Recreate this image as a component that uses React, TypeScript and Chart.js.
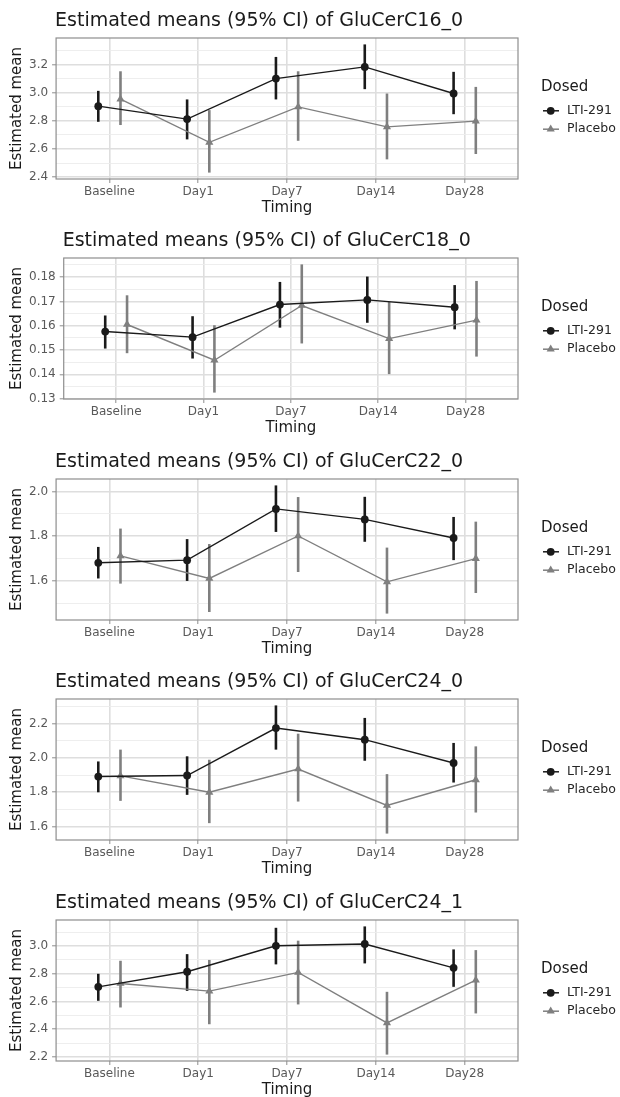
import React, { useEffect, useRef } from "react";
import { Chart, registerables } from "chart.js";

Chart.register(...registerables);

// ---------- data ----------
const categories = ["Baseline", "Day1", "Day7", "Day14", "Day28"];
const seriesNames = ["LTI-291", "Placebo"];

// GluCerC16_0
const c16LtiMean = [2.904, 2.812, 3.1, 3.183, 2.994];
const c16LtiLower = [2.793, 2.668, 2.952, 3.025, 2.847];
const c16LtiUpper = [3.013, 2.952, 3.254, 3.343, 3.148];
const c16PlaMean = [2.954, 2.647, 2.899, 2.757, 2.798];
const c16PlaLower = [2.77, 2.432, 2.658, 2.526, 2.564];
const c16PlaUpper = [3.152, 2.876, 3.152, 2.994, 3.041];
const c16TickLabels = ["2.4", "2.6", "2.8", "3.0", "3.2"];

// GluCerC18_0
const c18LtiMean = [0.1576, 0.1553, 0.1687, 0.1706, 0.1676];
const c18LtiLower = [0.1506, 0.1465, 0.1592, 0.1612, 0.1585];
const c18LtiUpper = [0.1642, 0.1639, 0.178, 0.1802, 0.1767];
const c18PlaMean = [0.1605, 0.1458, 0.1683, 0.1547, 0.1623];
const c18PlaLower = [0.1487, 0.1325, 0.1527, 0.1401, 0.1473];
const c18PlaUpper = [0.1725, 0.1602, 0.1852, 0.1698, 0.1784];
const c18TickLabels = ["0.13", "0.14", "0.15", "0.16", "0.17", "0.18"];

// GluCerC22_0
const c22LtiMean = [1.681, 1.693, 1.922, 1.875, 1.792];
const c22LtiLower = [1.611, 1.6, 1.819, 1.775, 1.693];
const c22LtiUpper = [1.752, 1.787, 2.027, 1.976, 1.886];
const c22PlaMean = [1.712, 1.611, 1.801, 1.596, 1.7];
const c22PlaLower = [1.588, 1.461, 1.64, 1.454, 1.546];
const c22PlaUpper = [1.834, 1.765, 1.975, 1.749, 1.865];
const c22TickLabels = ["1.6", "1.8", "2.0"];

// GluCerC24_0
const c240LtiMean = [1.892, 1.898, 2.175, 2.107, 1.971];
const c240LtiLower = [1.8, 1.785, 2.049, 1.984, 1.857];
const c240LtiUpper = [1.98, 2.01, 2.307, 2.234, 2.088];
const c240PlaMean = [1.896, 1.8, 1.936, 1.723, 1.873];
const c240PlaLower = [1.75, 1.62, 1.746, 1.559, 1.682];
const c240PlaUpper = [2.049, 1.99, 2.142, 1.906, 2.068];
const c240TickLabels = ["1.6", "1.8", "2.0", "2.2"];

// GluCerC24_1
const c241LtiMean = [2.706, 2.815, 3.002, 3.015, 2.843];
const c241LtiLower = [2.605, 2.677, 2.868, 2.875, 2.706];
const c241LtiUpper = [2.8, 2.942, 3.132, 3.142, 2.976];
const c241PlaMean = [2.73, 2.675, 2.81, 2.446, 2.754];
const c241PlaLower = [2.557, 2.436, 2.579, 2.217, 2.514];
const c241PlaUpper = [2.894, 2.9, 3.039, 2.67, 2.971];
const c241TickLabels = ["2.2", "2.4", "2.6", "2.8", "3.0"];

const panelTitles = [
  "Estimated means (95% CI) of GluCerC16_0",
  "Estimated means (95% CI) of GluCerC18_0",
  "Estimated means (95% CI) of GluCerC22_0",
  "Estimated means (95% CI) of GluCerC24_0",
  "Estimated means (95% CI) of GluCerC24_1",
];

// ---------- style ----------
const FONT = '"DejaVu Sans", Verdana, sans-serif';
const LTI_COLOR = "#1a1a1a";
const PLA_COLOR = "#7f7f7f";
const DODGE = 0.125;
const CANVAS_H = 221;
const PANEL_TOPS = [0, 220, 441, 661, 882];

const errorBarPlugin = {
  id: "errbars",
  beforeDatasetsDraw(chart: any) {
    const { ctx } = chart;
    const xs = chart.scales.x;
    const ys = chart.scales.y;
    const dss = chart.data.datasets;
    for (let d = dss.length - 1; d >= 0; d--) {
      const ds = dss[d];
      ctx.save();
      ctx.strokeStyle = ds.errColor;
      ctx.lineWidth = ds.errWidth;
      ctx.lineCap = "butt";
      ds.data.forEach((p: any, i: number) => {
        const px = xs.getPixelForValue(p.x);
        ctx.beginPath();
        ctx.moveTo(px, ys.getPixelForValue(ds.lower[i]));
        ctx.lineTo(px, ys.getPixelForValue(ds.upper[i]));
        ctx.stroke();
      });
      ctx.restore();
    }
  },
};

const decorPlugin = {
  id: "decor",
  afterDraw(chart: any) {
    const { ctx, chartArea: a } = chart;
    const opts = chart.options.plugins.decor;
    ctx.save();
    // panel border
    ctx.strokeStyle = "#8e8e8e";
    ctx.lineWidth = 1.2;
    ctx.strokeRect(a.left, a.top, a.right - a.left, a.bottom - a.top);
    // title
    ctx.fillStyle = "#1a1a1a";
    ctx.font = `19px ${FONT}`;
    ctx.textAlign = "left";
    ctx.textBaseline = "alphabetic";
    ctx.fillText(opts.title, a.left - 1, a.top - 12);
    // x axis title
    ctx.font = `15px ${FONT}`;
    ctx.textAlign = "center";
    ctx.textBaseline = "middle";
    ctx.fillText("Timing", (a.left + a.right) / 2, a.bottom + 29);
    // y axis title
    ctx.save();
    ctx.translate(17.5, (a.top + a.bottom) / 2);
    ctx.rotate(-Math.PI / 2);
    ctx.fillText("Estimated mean", 0, 0);
    ctx.restore();
    // legend
    const cy = (a.top + a.bottom) / 2;
    const lx = a.right;
    ctx.textAlign = "left";
    ctx.font = `15px ${FONT}`;
    ctx.fillText("Dosed", lx + 23, cy - 21.6);
    chart.data.datasets.forEach((ds: any, i: number) => {
      const y = cy + 2.3 + i * 18.4;
      ctx.strokeStyle = ds.borderColor;
      ctx.lineWidth = 1.5;
      ctx.beginPath();
      ctx.moveTo(lx + 25, y);
      ctx.lineTo(lx + 41, y);
      ctx.stroke();
      ctx.fillStyle = ds.backgroundColor;
      const px = lx + 32.7;
      ctx.beginPath();
      if (ds.pointStyle === "triangle") {
        const r = ds.pointRadius;
        for (let k = 0; k < 3; k++) {
          const ang = (k * 2 * Math.PI) / 3;
          const xx = px + Math.sin(ang) * r;
          const yy = y - Math.cos(ang) * r;
          if (k === 0) ctx.moveTo(xx, yy);
          else ctx.lineTo(xx, yy);
        }
        ctx.closePath();
      } else {
        ctx.arc(px, y, ds.pointRadius, 0, Math.PI * 2);
      }
      ctx.fill();
      ctx.fillStyle = "#262626";
      ctx.font = `12.5px ${FONT}`;
      ctx.fillText(ds.label, lx + 49, y);
    });
    ctx.restore();
  },
};

type Series = { mean: number[]; lower: number[]; upper: number[] };

function Panel(props: { title: string; lti: Series; pla: Series; tickLabels: string[]; top: number }) {
  const { title, lti, pla, tickLabels, top } = props;
  const ref = useRef<HTMLCanvasElement>(null);

  useEffect(() => {
    const majors = tickLabels.map(Number);
    const all = [...lti.lower, ...lti.upper, ...pla.lower, ...pla.upper, ...lti.mean, ...pla.mean];
    const lo = Math.min(...all);
    const hi = Math.max(...all);
    const pad = (hi - lo) * 0.05;
    const yMin = lo - pad;
    const yMax = hi + pad;
    const half = (majors[1] - majors[0]) / 2;
    const tickVals: number[] = [];
    for (let k = -4; k <= majors.length * 2 + 4; k++) {
      const v = +(majors[0] + k * half).toFixed(6);
      if (v >= yMin - 1e-9 && v <= yMax + 1e-9) tickVals.push(v);
    }
    const majorIndex = (v: number) => majors.findIndex((m) => Math.abs(m - v) < half / 10);
    const isMajor = (v: number) => majorIndex(v) >= 0;

    const makeDs = (name: string, s: Series, shift: number, color: string, style: string, radius: number) => ({
      label: name,
      data: s.mean.map((m, i) => ({ x: i + shift, y: m })),
      lower: s.lower,
      upper: s.upper,
      errColor: color,
      errWidth: 2.6,
      borderColor: color,
      backgroundColor: color,
      borderWidth: 1.4,
      pointStyle: style,
      pointRadius: radius,
      pointBorderWidth: 0,
      pointHoverRadius: radius,
      tension: 0,
      fill: false,
    });

    const chart = new Chart(ref.current as HTMLCanvasElement, {
      type: "line",
      data: {
        datasets: [
          makeDs(seriesNames[0], lti, -DODGE, LTI_COLOR, "circle", 3.9),
          makeDs(seriesNames[1], pla, DODGE, PLA_COLOR, "triangle", 4.7),
        ] as any,
      },
      options: {
        responsive: false,
        animation: false,
        devicePixelRatio: 1,
        events: [],
        layout: { padding: { left: 25, right: 102, top: 38, bottom: 0 } },
        plugins: {
          legend: { display: false },
          title: { display: false },
          tooltip: { enabled: false },
          decor: { title },
        } as any,
        scales: {
          x: {
            type: "linear",
            min: -0.6,
            max: 4.6,
            afterBuildTicks: (s: any) => {
              s.ticks = categories.map((_, i) => ({ value: i }));
            },
            afterFit: (s: any) => {
              s.height = 42;
            },
            ticks: {
              autoSkip: false,
              maxRotation: 0,
              padding: 2,
              color: "#595959",
              font: { family: FONT, size: 12 },
              callback: (v: any) => categories[v] ?? "",
            },
            grid: {
              color: "#dedede",
              lineWidth: 1.6,
              tickColor: "#8c8c8c",
              tickLength: 4,
              tickWidth: 1,
            },
            border: { display: false },
          },
          y: {
            type: "linear",
            min: yMin,
            max: yMax,
            afterBuildTicks: (s: any) => {
              s.ticks = tickVals.map((v) => ({ value: v }));
            },
            ticks: {
              autoSkip: false,
              padding: 4,
              color: "#595959",
              font: { family: FONT, size: 12 },
              callback: (v: any) => {
                const idx = majorIndex(Number(v));
                return idx >= 0 ? tickLabels[idx] : "";
              },
            },
            grid: {
              color: (c: any) => (c.tick && isMajor(c.tick.value) ? "#dedede" : "#ececec"),
              lineWidth: (c: any) => (c.tick && isMajor(c.tick.value) ? 1.6 : 0.9),
              tickColor: (c: any) => (c.tick && isMajor(c.tick.value) ? "#8c8c8c" : "rgba(0,0,0,0)"),
              tickLength: 4,
              tickWidth: 1,
            },
            border: { display: false },
          },
        },
      } as any,
      plugins: [errorBarPlugin, decorPlugin],
    });
    return () => chart.destroy();
  }, []);

  return (
    <canvas
      ref={ref}
      width={620}
      height={CANVAS_H}
      style={{ position: "absolute", left: 0, top, width: 620, height: CANVAS_H, display: "block" }}
    />
  );
}

export default function App() {
  const panels = [
    { lti: { mean: c16LtiMean, lower: c16LtiLower, upper: c16LtiUpper }, pla: { mean: c16PlaMean, lower: c16PlaLower, upper: c16PlaUpper }, ticks: c16TickLabels },
    { lti: { mean: c18LtiMean, lower: c18LtiLower, upper: c18LtiUpper }, pla: { mean: c18PlaMean, lower: c18PlaLower, upper: c18PlaUpper }, ticks: c18TickLabels },
    { lti: { mean: c22LtiMean, lower: c22LtiLower, upper: c22LtiUpper }, pla: { mean: c22PlaMean, lower: c22PlaLower, upper: c22PlaUpper }, ticks: c22TickLabels },
    { lti: { mean: c240LtiMean, lower: c240LtiLower, upper: c240LtiUpper }, pla: { mean: c240PlaMean, lower: c240PlaLower, upper: c240PlaUpper }, ticks: c240TickLabels },
    { lti: { mean: c241LtiMean, lower: c241LtiLower, upper: c241LtiUpper }, pla: { mean: c241PlaMean, lower: c241PlaLower, upper: c241PlaUpper }, ticks: c241TickLabels },
  ];
  return (
    <div
      style={{
        position: "absolute",
        left: 0,
        top: 0,
        width: 620,
        height: 1097,
        overflow: "hidden",
        background: "#ffffff",
      }}
    >
      {panels.map((p, i) => (
        <Panel key={i} title={panelTitles[i]} lti={p.lti} pla={p.pla} tickLabels={p.ticks} top={PANEL_TOPS[i]} />
      ))}
    </div>
  );
}
